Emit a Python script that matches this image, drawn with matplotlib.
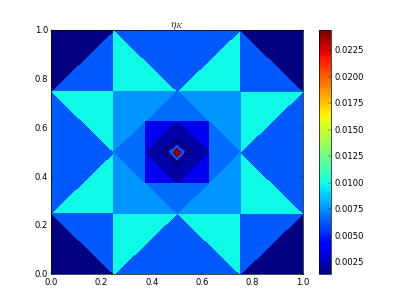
import numpy as np
import matplotlib
matplotlib.use('Agg')
import matplotlib.pyplot as plt
import matplotlib.tri as mtri
from matplotlib.ticker import FormatStrFormatter

plt.style.use('classic')

# valores del estimador eta_K por tipo de triangulo (leidos de la barra de color)
esquina = 0.00137      # triangulos en las esquinas del dominio
borde = 0.0063         # triangulos con una arista en el borde
cian = 0.0099          # triangulos que tocan el borde solo en un vertice
fuera_rombo = 0.0076   # celdas centrales, fuera del rombo
nivel_esquina = [0.0067, 0.0021, 0.0016, 0.0062]   # por nivel de refinamiento
nivel_medio = [0.0037, 0.0022, 0.0017, 0.0062]
centro_val = 0.0244
ticks_cb = [0.0025, 0.0050, 0.0075, 0.0100, 0.0125, 0.0150, 0.0175, 0.0200, 0.0225]

h = 0.25          # malla base 4x4
c = (0.5, 0.5)    # punto singular

puntos = {}
tris = []
vals = []

def idx(p):
    key = (round(p[0], 10), round(p[1], 10))
    if key not in puntos:
        puntos[key] = len(puntos)
    return puntos[key]

def add(p, v):
    tris.append([idx(q) for q in p])
    vals.append(v)

def en_borde(p):
    return p[0] in (0, 1) or p[1] in (0, 1)

# anillo exterior de la malla base
for i in range(4):
    for j in range(4):
        if 1 <= i <= 2 and 1 <= j <= 2:
            continue
        x0, x1, y0, y1 = i*h, (i+1)*h, j*h, (j+1)*h
        if (i+j) % 2 == 1:
            mitades = [[(x0, y0), (x1, y0), (x1, y1)], [(x0, y0), (x1, y1), (x0, y1)]]
        else:
            mitades = [[(x0, y0), (x1, y0), (x0, y1)], [(x1, y0), (x1, y1), (x0, y1)]]
        es_esq = i in (0, 3) and j in (0, 3)
        for t in mitades:
            if es_esq:
                v = esquina if any(p[0] in (0, 1) and p[1] in (0, 1) for p in t) else borde
            else:
                arista = any((t[a][0] == t[b][0] and t[a][0] in (0, 1)) or
                             (t[a][1] == t[b][1] and t[a][1] in (0, 1))
                             for a in range(3) for b in range(a+1, 3))
                v = borde if arista else cian
            add(t, v)

def refinar(s, sx, sy, k):
    a = (c[0]+sx*s, c[1])
    b = (c[0], c[1]+sy*s)
    ma = (c[0]+sx*s/2, c[1])
    mb = (c[0], c[1]+sy*s/2)
    mab = (c[0]+sx*s/2, c[1]+sy*s/2)
    add([a, ma, mab], nivel_esquina[k])
    add([b, mb, mab], nivel_esquina[k])
    if k < len(nivel_esquina) - 1:
        m = (c[0]+sx*s/4, c[1]+sy*s/4)
        add([ma, m, mab], nivel_medio[k])
        add([m, mb, mab], nivel_medio[k])
        refinar(s/2, sx, sy, k+1)
    else:
        add([ma, mb, mab], nivel_medio[k])
        add([c, ma, mb], centro_val)

# celdas centrales: triangulo exterior bisecado + triangulo interior refinado
for sx in (-1, 1):
    for sy in (-1, 1):
        a = (c[0]+sx*h, c[1])
        b = (c[0], c[1]+sy*h)
        q = (c[0]+sx*h, c[1]+sy*h)
        mab = (c[0]+sx*h/2, c[1]+sy*h/2)
        add([a, mab, q], fuera_rombo)
        add([mab, b, q], fuera_rombo)
        refinar(h, sx, sy, 0)

orden = sorted(puntos.items(), key=lambda kv: kv[1])
x = np.array([k[0] for k, _ in orden])
y = np.array([k[1] for k, _ in orden])
tri = mtri.Triangulation(x, y, np.array(tris))

fig = plt.figure(figsize=(8, 6))
plt.tripcolor(tri, facecolors=np.array(vals), cmap='jet')
plt.title(r'$\eta_K$')
plt.xlim(0, 1)
plt.ylim(0, 1)
cb = plt.colorbar(ticks=ticks_cb)
cb.formatter = FormatStrFormatter('%.4f')
cb.update_ticks()
fig.savefig('out.png', dpi=50.875)
